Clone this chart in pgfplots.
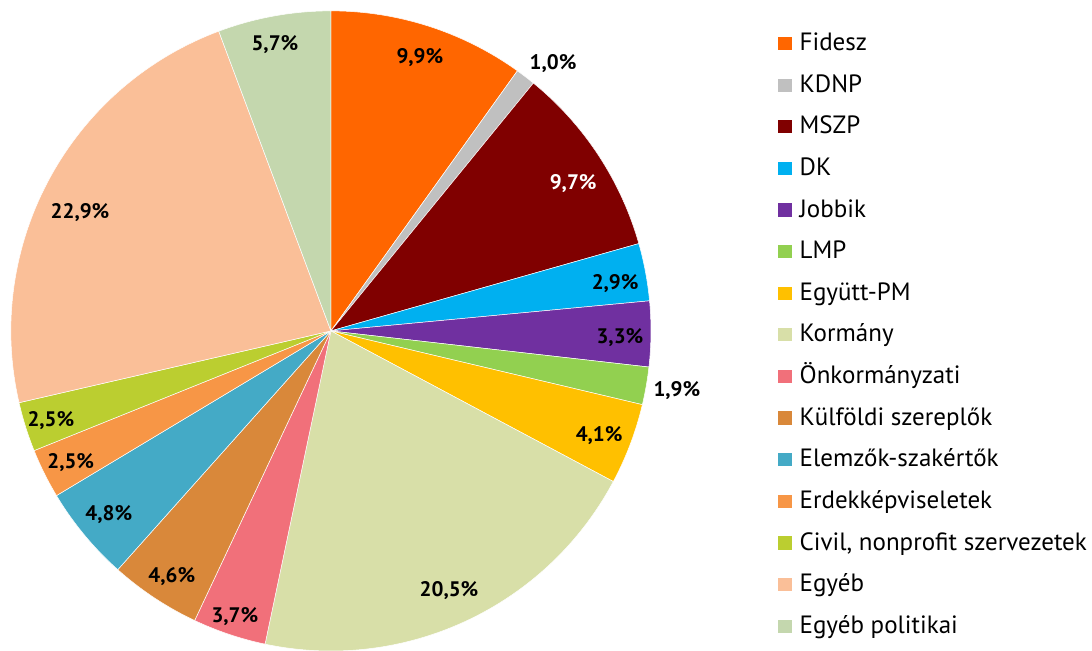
\documentclass[border=0pt]{standalone}
\usepackage{pgfplots}
\usepackage{pgfplotstable}
\pgfplotsset{compat=1.18}
\usepackage{fontspec}
\setmainfont{PT Sans}

\definecolor{cFid}{RGB}{255,102,0}
\definecolor{cKDNP}{RGB}{192,192,192}
\definecolor{cMSZP}{RGB}{128,0,0}
\definecolor{cDK}{RGB}{0,176,240}
\definecolor{cJob}{RGB}{112,48,160}
\definecolor{cLMP}{RGB}{146,208,80}
\definecolor{cEgy}{RGB}{255,192,0}
\definecolor{cKor}{RGB}{216,223,168}
\definecolor{cOnk}{RGB}{241,112,122}
\definecolor{cKul}{RGB}{217,136,58}
\definecolor{cElem}{RGB}{68,170,198}
\definecolor{cErd}{RGB}{247,150,70}
\definecolor{cCiv}{RGB}{187,206,48}
\definecolor{cEgyeb}{RGB}{250,191,152}
\definecolor{cEgyPol}{RGB}{196,215,174}

\tikzset{pctlabel/.style={font=\bfseries\fontsize{10.5}{12}\selectfont}}

% share in %, slice colour, label position (axis units, radius = 1)
\pgfplotstableread[col sep=semicolon]{
name;value;color;lx;ly;lc
Fidesz;9.9;cFid;0.278;0.853;black
KDNP;1.0;cKDNP;0.694;0.835;black
MSZP;9.7;cMSZP;0.757;0.460;white
DK;2.9;cDK;0.888;0.147;black
Jobbik;3.3;cJob;0.903;-0.022;black
LMP;1.9;cLMP;1.081;-0.187;black
Együtt-PM;4.1;cEgy;0.838;-0.328;black
Kormány;20.5;cKor;0.369;-0.812;black
Önkormányzati;3.7;cOnk;-0.300;-0.891;black
Külföldi szereplők;4.6;cKul;-0.497;-0.766;black
Elemzők-szakértők;4.8;cElem;-0.694;-0.575;black
Erdekképviseletek;2.5;cErd;-0.813;-0.412;black
Civil, nonprofit szervezetek;2.5;cCiv;-0.875;-0.281;black
Egyéb;22.9;cEgyeb;-0.784;0.369;black
Egyéb politikai;5.7;cEgyPol;-0.175;0.894;black
}\piedata

\begin{document}
\begin{tikzpicture}
\begin{axis}[
  x=160pt, y=160pt,
  xmin=-1.034, xmax=2.378, ymin=-0.997, ymax=1.034,
  hide axis, clip=false,
  legend image code/.code={\fill[#1] (0pt,-3.0pt) rectangle (6.6pt,3.6pt);},
  legend cell align=left,
  legend style={at={(axis cs:1.397,0.933)}, anchor=north west,
    draw=none, fill=none, inner sep=0pt, row sep=9.3pt,
    font=\fontsize{12.5}{14}\selectfont,
    nodes={inner sep=0pt, text height=9pt, text depth=2.5pt},
    /tikz/every odd column/.append style={column sep=4pt}},
]
\pgfplotstablegetrowsof{\piedata}
\pgfmathtruncatemacro\nrows{\pgfplotsretval-1}
\gdef\cum{0}
\pgfplotsinvokeforeach{0,...,\nrows}{
  \pgfplotstablegetelem{#1}{value}\of\piedata \let\v\pgfplotsretval
  \pgfplotstablegetelem{#1}{color}\of\piedata \let\c\pgfplotsretval
  \pgfplotstablegetelem{#1}{name}\of\piedata \let\nm\pgfplotsretval
  \pgfplotstablegetelem{#1}{lx}\of\piedata \let\lx\pgfplotsretval
  \pgfplotstablegetelem{#1}{ly}\of\piedata \let\ly\pgfplotsretval
  \pgfplotstablegetelem{#1}{lc}\of\piedata \let\lc\pgfplotsretval
  \pgfmathsetmacro\a{90-3.6*\cum}
  \pgfmathsetmacro\b{90-3.6*(\cum+\v)}
  \edef\temp{%
    \noexpand\fill[\c, draw=white, line width=0.25pt] (axis cs:0,0)
      -- (axis cs:{cos(\a)},{sin(\a)}) arc[start angle=\a, end angle=\b, radius=160pt] -- cycle;
    \noexpand\node[pctlabel, text=\lc] at (axis cs:\lx,\ly)
      {\noexpand\pgfmathprintnumber[fixed,fixed zerofill,precision=1,use comma,assume math mode=true]{\v}\noexpand\%};
    \noexpand\addlegendimage{fill=\c, draw=none}
    \noexpand\addlegendentry{\nm}
  }\temp
  \pgfmathsetmacro\cum{\cum+\v}\xdef\cum{\cum}
}
\coordinate (bl) at (axis cs:-1.034,-0.997);
\coordinate (tr) at (axis cs:2.378,1.034);
\end{axis}
\pgfresetboundingbox
\useasboundingbox (bl) rectangle (tr);
\end{tikzpicture}
\end{document}
